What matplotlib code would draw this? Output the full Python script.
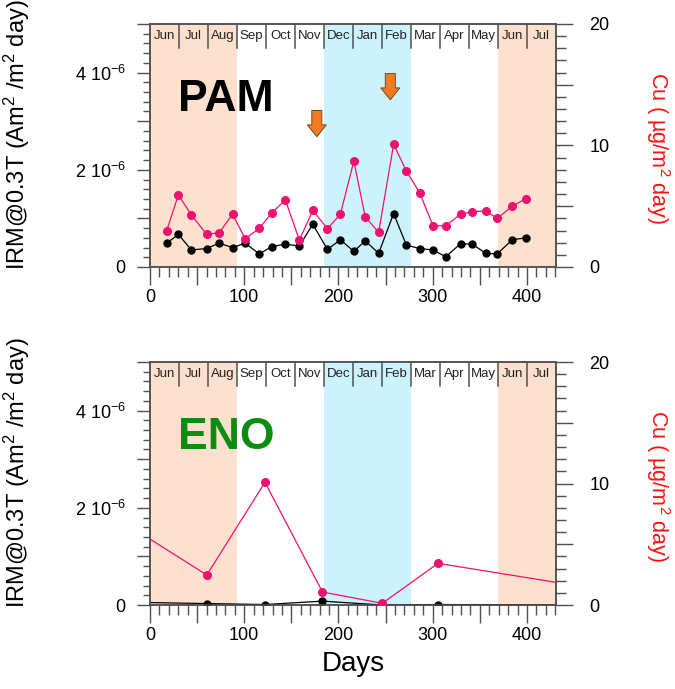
import numpy as np
import matplotlib
matplotlib.use("Agg")
import matplotlib.pyplot as plt
from matplotlib.ticker import MultipleLocator, FuncFormatter

plt.rcParams.update({
    "font.family": ["Liberation Sans", "DejaVu Sans"],
    "mathtext.fontset": "custom",
    "mathtext.rm": "Liberation Sans",
    "mathtext.it": "Liberation Sans:italic",
    "mathtext.bf": "Liberation Sans:bold",
    "mathtext.default": "regular",
})

PEACH, SKY, PINK, GREEN, FRAME = "#FDE1CE", "#CCF2FC", "#EE1270", "#0E8C12", "#505050"
ORANGE = "#F47A20"

# month strip along the top of each panel
MONTHS = ["Jun", "Jul", "Aug", "Sep", "Oct", "Nov", "Dec",
          "Jan", "Feb", "Mar", "Apr", "May", "Jun", "Jul"]
MONTH_LEN = 400 / 13
SUMMER = [(0, 3), (12, 14)]     # month index spans (peach)
WINTER = [(6, 9)]               # month index spans (blue)

# PAM site
pam_days = [17.7, 30.1, 44, 60, 73.4, 87.6, 101, 116, 129.4, 143.6, 158.5, 172.7,
            188.3, 202, 216.3, 228.4, 242.6, 258.5, 272, 286, 300.3, 313.8,
            329.5, 341.8, 356.4, 368.4, 384.4, 398.6]
pam_irm = [0.49, 0.67, 0.35, 0.38, 0.49, 0.40, 0.49, 0.27, 0.42, 0.47, 0.43, 0.88,
           0.36, 0.56, 0.32, 0.54, 0.28, 1.10, 0.45, 0.38, 0.35, 0.21,
           0.48, 0.47, 0.28, 0.27, 0.56, 0.60]          # x 1e-6
pam_cu = [2.99, 5.93, 4.28, 2.69, 2.82, 4.34, 2.33, 3.18, 4.47, 5.51, 2.22, 4.66,
          3.15, 4.34, 8.72, 4.12, 2.85, 10.1, 7.9, 6.12, 3.40, 3.40,
          4.34, 4.55, 4.61, 4.0, 5.0, 5.62]
pam_arrows = [(177, 3.22, 2.68), (255, 3.98, 3.44)]    # day, top, tip (x 1e-6)

# ENO site (first and last samples fall outside the plotted window)
eno_days = [-30, 60.3, 122, 183, 246.5, 305.6, 460]
eno_irm = [0.06, 0.03, 0.01, 0.08, 0.0, 0.01, 0.0]     # x 1e-6
eno_cu = [6.9, 2.47, 10.1, 1.07, 0.14, 3.43, 1.5]


def irm_fmt(v, pos):
    k = int(round(v * 1e6))
    if k == 0:
        return "0"
    if k % 2:
        return ""
    return f"{k} 10$^{{-6}}$"


def cu_fmt(v, pos):
    k = int(round(v))
    return str(k) if k % 10 == 0 else ""


def day_fmt(v, pos):
    k = int(round(v))
    return str(k) if k % 100 == 0 else ""


def panel(ax, days, irm, cu, label, label_color, arrows=(), show_xlabel=False):
    xmax = 14 * MONTH_LEN
    for a, b in SUMMER:
        ax.axvspan(a * MONTH_LEN, b * MONTH_LEN, color=PEACH, lw=0, zorder=0)
    for a, b in WINTER:
        ax.axvspan(a * MONTH_LEN, b * MONTH_LEN, color=SKY, lw=0, zorder=0)
    trans = ax.get_xaxis_transform()
    for i, m in enumerate(MONTHS):
        ax.text((i + 0.5) * MONTH_LEN, 0.952, m, transform=trans,
                ha="center", va="center", fontsize=9.5, color="#222222")
        if i > 0:
            ax.plot([i * MONTH_LEN] * 2, [0.9, 1.0], transform=trans,
                    color=FRAME, lw=1.1, zorder=3)

    ax.plot(days, np.array(irm) * 1e-6, color="black", lw=0.9,
            marker="o", ms=5, zorder=4)
    ax.set_xlim(0, xmax)
    ax.set_ylim(0, 5e-6)
    ax.text(0.068, 0.64, label, transform=ax.transAxes, fontsize=32,
            weight="bold", color=label_color, ha="left", va="baseline")
    for x, top, tip in arrows:
        ax.annotate("", xy=(x, tip * 1e-6), xytext=(x, top * 1e-6),
                    arrowprops=dict(arrowstyle="simple,head_width=0.72,head_length=0.45,tail_width=0.38",
                                    fc=ORANGE, ec="#6E4A2E", lw=0.7,
                                    shrinkA=0, shrinkB=0, mutation_scale=19),
                    zorder=5)

    ax.yaxis.set_major_locator(MultipleLocator(1e-6))
    ax.yaxis.set_minor_locator(MultipleLocator(2e-7))
    ax.yaxis.set_major_formatter(FuncFormatter(irm_fmt))
    ax.xaxis.set_major_locator(MultipleLocator(50))
    ax.xaxis.set_minor_locator(MultipleLocator(10))
    ax.xaxis.set_major_formatter(FuncFormatter(day_fmt))
    ax.tick_params(axis="y", which="major", length=9.5, width=1, pad=8,
                   labelsize=13, color=FRAME)
    ax.tick_params(axis="y", which="minor", length=5, width=1, color=FRAME)
    ax.tick_params(axis="x", which="major", length=13, width=1, pad=3,
                   labelsize=13, color=FRAME)
    ax.tick_params(axis="x", which="minor", length=7, width=1, color=FRAME)
    ax.text(-0.328, 0.545, "IRM@0.3T (Am$^2$ /m$^2$ day)", transform=ax.transAxes,
            fontsize=17, rotation=90, ha="center", va="center")
    if show_xlabel:
        ax.set_xlabel("Days", fontsize=20, labelpad=5)

    ax2 = ax.twinx()
    ax2.plot(days, cu, color=PINK, lw=0.9, marker="o", ms=5.5, zorder=4)
    ax2.set_ylim(0, 20)
    ax2.yaxis.set_major_locator(MultipleLocator(5))
    ax2.yaxis.set_minor_locator(MultipleLocator(1))
    ax2.yaxis.set_major_formatter(FuncFormatter(cu_fmt))
    ax2.tick_params(axis="y", which="major", length=12, width=1, pad=12,
                    labelsize=13, color=FRAME)
    ax2.tick_params(axis="y", which="minor", length=7, width=1, color=FRAME)
    ax2.text(1.25, 0.49, "Cu ( \u00b5g/m$^2$ day)", transform=ax2.transAxes,
             fontsize=15.5, color="#FF1010", rotation=270,
             ha="center", va="center")
    for a in (ax, ax2):
        for s in a.spines.values():
            s.set_color(FRAME)
            s.set_linewidth(1.1)


fig = plt.figure(figsize=(6.75, 6.89), dpi=100)
ax_top = fig.add_axes([0.2222, 0.6125, 0.6015, 0.3527])
ax_bot = fig.add_axes([0.2222, 0.1219, 0.6015, 0.3527])

panel(ax_top, pam_days, pam_irm, pam_cu, "PAM", "black", arrows=pam_arrows)
panel(ax_bot, eno_days, eno_irm, eno_cu, "ENO", GREEN, show_xlabel=True)

fig.savefig("out.png", dpi=100)
